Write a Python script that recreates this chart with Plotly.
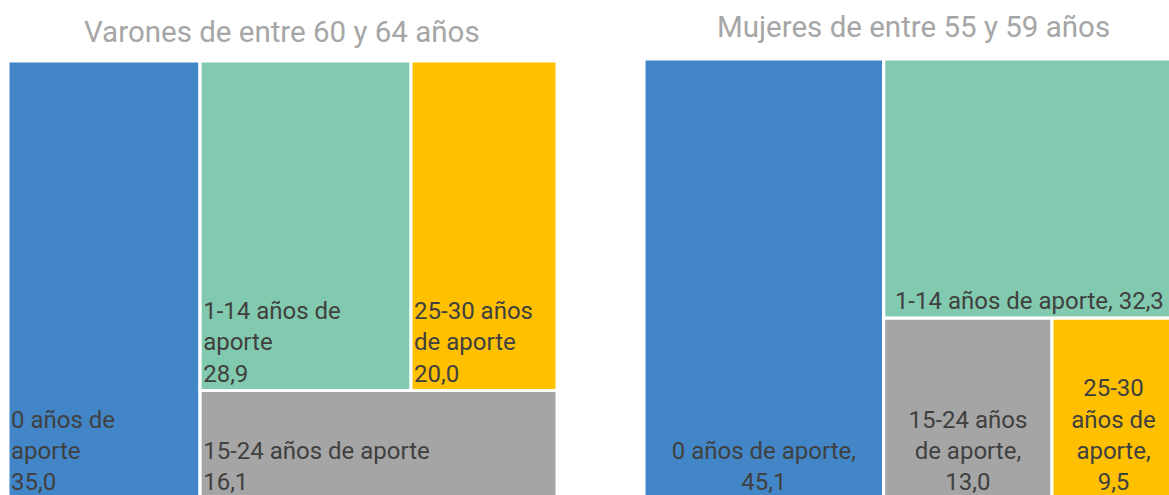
import plotly.graph_objects as go

# ---------------- data ----------------
title_v = "Varones de entre 60 y 64 años"
categories_v = ["0 años de aporte", "1-14 años de aporte", "25-30 años de aporte", "15-24 años de aporte"]
values_v = [35.0, 28.9, 20.0, 16.1]
label_lines_v = ["0 años de<br>aporte", "1-14 años de<br>aporte", "25-30 años<br>de aporte", "15-24 años de aporte"]
sep_v = ["<br>", "<br>", "<br>", "<br>"]

title_m = "Mujeres de entre 55 y 59 años"
categories_m = ["0 años de aporte", "1-14 años de aporte", "15-24 años de aporte", "25-30 años de aporte"]
values_m = [45.1, 32.3, 13.0, 9.5]
label_lines_m = ["0 años de aporte", "1-14 años de aporte", "15-24 años<br>de aporte", "25-30<br>años de<br>aporte"]
sep_m = [",<br>", ", ", ",<br>", ",<br>"]

color_map = {
    "0 años de aporte": "#4286C7",
    "1-14 años de aporte": "#82CAAF",
    "15-24 años de aporte": "#A5A5A5",
    "25-30 años de aporte": "#FFC000",
}

# The original chart is slightly cropped at the right and bottom edges:
# the figure is a little larger than the window and the overflow is hidden.
W, H = 1175, 499
OFF = 0  # body margin removed by the post script


def fmt(v):
    return f"{v:.1f}".replace(".", ",")


def build(prefix, cats, vals, lines, seps, structure):
    ids, parents, labels, values, texts, colors = [], [], [], [], [], []
    ids.append(prefix + "root"); parents.append(""); labels.append(""); values.append(0)
    texts.append(""); colors.append("rgba(0,0,0,0)")
    for node_id, parent_id, idx in structure:
        ids.append(prefix + node_id)
        parents.append(prefix + parent_id)
        if idx is None:
            labels.append(""); values.append(0); texts.append(""); colors.append("rgba(0,0,0,0)")
        else:
            labels.append(cats[idx]); values.append(vals[idx])
            texts.append(lines[idx] + seps[idx] + fmt(vals[idx]))
            colors.append(color_map[cats[idx]])
    return ids, parents, labels, values, texts, colors


# Excel-style layout: hierarchy of hidden groups, alternating slice / dice
struct_v = [
    ("a", "root", 0),
    ("g1", "root", None),
    ("g2", "g1", None),
    ("b", "g2", 1),
    ("c", "g2", 2),
    ("d", "g1", 3),
]
struct_m = [
    ("a", "root", 0),
    ("g1", "root", None),
    ("b", "g1", 1),
    ("g2", "g1", None),
    ("d", "g2", 2),
    ("c", "g2", 3),
]


def px_x(x):
    return (x - OFF) / W


def px_y(y):
    return 1 - (y - OFF) / H


fig = go.Figure()

for prefix, cats, vals, lines, seps, struct, dom, tpos in [
    ("v_", categories_v, values_v, label_lines_v, sep_v, struct_v,
     dict(x=[px_x(8), px_x(557)], y=[0, px_y(61)]), "bottom left"),
    ("m_", categories_m, values_m, label_lines_m, sep_m, struct_m,
     dict(x=[px_x(644), 1.0], y=[0, px_y(59)]), "bottom center"),
]:
    ids, parents, labels, values, texts, colors = build(prefix, cats, vals, lines, seps, struct)
    fig.add_trace(go.Treemap(
        ids=ids, parents=parents, labels=labels, values=values,
        branchvalues="remainder", sort=False,
        text=texts, textinfo="text",
        textposition=tpos,
        textfont=dict(family="Roboto", size=24, color="#404040"),
        marker=dict(colors=colors, line=dict(color="white", width=3),
                    pad=dict(t=0, l=0, r=0, b=0)),
        tiling=dict(packing="slice-dice", pad=0),
        pathbar=dict(visible=False),
        root=dict(color="rgba(0,0,0,0)"),
        domain=dom,
        hoverinfo="skip",
    ))

fig.add_annotation(text=title_v, x=px_x(282), y=px_y(32), xref="paper", yref="paper",
                   xanchor="center", yanchor="middle",
                   showarrow=False, font=dict(family="Roboto", size=29.5, color="#A6A6A6"))
fig.add_annotation(text=title_m, x=px_x(913), y=px_y(27), xref="paper", yref="paper",
                   xanchor="center", yanchor="middle",
                   showarrow=False, font=dict(family="Roboto", size=29.5, color="#A6A6A6"))

fig.update_layout(
    width=W, height=H,
    margin=dict(l=0, r=0, t=0, b=0),
    paper_bgcolor="white",
    showlegend=False,
)

fig.write_html(
    "out.html",
    config={"displayModeBar": False},
    post_script=("document.body.style.margin='0';"
                 "document.documentElement.style.overflow='hidden';"
                 "document.body.style.overflow='hidden';"),
)
